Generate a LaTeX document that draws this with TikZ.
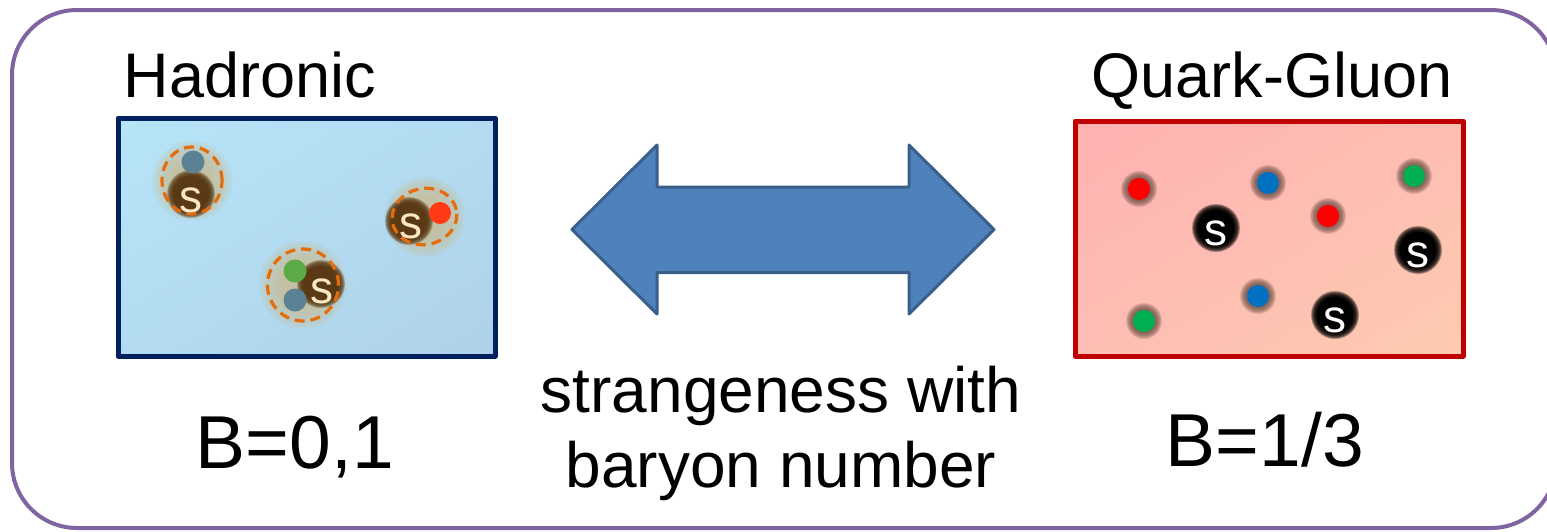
\documentclass[tikz,border=0pt]{standalone}
\usepackage{fontspec}
\setmainfont{Liberation Sans}
\usetikzlibrary{shadings}

\definecolor{framepurple}{HTML}{8064A2}
\definecolor{hadnavy}{HTML}{002060}
\definecolor{qgpred}{HTML}{C00000}
\definecolor{arrowfill}{HTML}{4F81BD}
\definecolor{arrowline}{HTML}{3A5F8B}
\definecolor{dashorange}{HTML}{E46C0A}
\definecolor{sbrown}{HTML}{5A3A14}
\definecolor{speach}{HTML}{FCE6C4}
\definecolor{halotan}{HTML}{C8BE98}
\definecolor{hblue}{HTML}{5B8294}
\definecolor{hgreen}{HTML}{5BAA46}
\definecolor{hred}{HTML}{FF3B17}
\definecolor{qred}{HTML}{FF0000}
\definecolor{qblue}{HTML}{0070C0}
\definecolor{qgreen}{HTML}{00B050}
\definecolor{qshadow}{HTML}{6E4E44}
% box background corners
\definecolor{hadUL}{RGB}{182,229,248}
\definecolor{hadUR}{RGB}{178,219,241}
\definecolor{hadLL}{RGB}{178,219,241}
\definecolor{hadLR}{RGB}{175,209,234}
\definecolor{qgpUL}{RGB}{255,177,178}
\definecolor{qgpUR}{RGB}{254,190,178}
\definecolor{qgpLL}{RGB}{254,190,180}
\definecolor{qgpLR}{RGB}{252,203,176}

% soft-edged disk: stacked translucent rings
% #1 colour, #2 x, #3 y, #4 inner radius, #5 outer radius, #6 opacity per ring
\newcommand\glowdisk[6]{%
  \foreach \gk in {0,...,9}{%
    \fill[#1, fill opacity=#6] (#2,#3) circle ({(#5-(#5-#4)*\gk/9)*1pt});
  }}

\begin{document}
\begin{tikzpicture}[x=1pt, y=-1pt,
  title/.style={font=\fontsize{63}{75}\selectfont, inner sep=0pt, anchor=base},
  valuelabel/.style={font=\fontsize{75}{90}\selectfont, inner sep=0pt, anchor=base},
  midlabel/.style={font=\fontsize{64}{75}\selectfont, align=center, inner sep=0pt},
  hadbox/.style={draw=hadnavy, line width=5pt, line join=round,
    minimum width=377pt, minimum height=238pt, inner sep=0pt,
    upper left=hadUL, upper right=hadUR, lower left=hadLL, lower right=hadLR},
  qgpbox/.style={draw=qgpred, line width=5pt, line join=round,
    minimum width=388pt, minimum height=235pt, inner sep=0pt,
    upper left=qgpUL, upper right=qgpUR, lower left=qgpLL, lower right=qgpLR},
  hdash/.style={draw=dashorange, line width=3.2pt, dash pattern=on 10pt off 6pt},
  hletter/.style={font=\fontsize{46}{46}\selectfont, text=speach, inner sep=0pt},
  qletter/.style={font=\fontsize{46}{46}\selectfont, text=white, inner sep=0pt}]

\useasboundingbox (0,0) rectangle (1547,531);

% outer frame (runs past the right edge)
\draw[framepurple, line width=4pt, rounded corners=65pt] (12,10) rectangle (1556,528);

% phase boxes
\node[hadbox] (had) at (306.5,237) {};
\node[qgpbox] (qgp) at (1269,238.5) {};

% titles and baryon numbers
\node[title] (hadtitle) at (250,97) {Hadronic};
\node[title] (qgptitle) at (1272,97) {Quark-Gluon};
\node[valuelabel] (hadB) at (295,468) {B=0,1};
\node[valuelabel] (qgpB) at (1265,466) {B=1/3};
\node[midlabel] (mid) at (781,433) {strangeness with\\baryon number};

% double block arrow
\draw[arrowline, fill=arrowfill, line width=3pt, line join=round]
  (572,229.5) -- (657,145) -- (657,187) -- (909,187) -- (909,145)
  -- (994,229.5) -- (909,314) -- (909,272.5) -- (657,272.5) -- (657,314) -- cycle;

% hadrons: strange meson (top left)
\glowdisk{halotan}{192}{181}{14}{40}{0.2}
\glowdisk{sbrown}{191}{194}{17}{24}{0.3}
\fill[sbrown] (191,194) circle (18pt);
\fill[hblue] (193,162) circle (11.5pt);
\draw[hdash] (192,180.5) ellipse (30pt and 33.5pt);
\node[hletter] (sA) at (191,200) {s};

% strange meson (right)
\glowdisk{halotan}{425}{217}{14}{40}{0.2}
\glowdisk{sbrown}{409}{221}{17}{24}{0.3}
\fill[sbrown] (409,221) circle (18pt);
\fill[hred] (440,213) circle (11pt);
\draw[hdash, rotate around={12:(424.5,216.5)}] (424.5,216.5) ellipse (32.5pt and 28pt);
\node[hletter] (sB) at (411,226) {s};

% strange baryon (bottom)
\glowdisk{halotan}{303}{285}{16}{44}{0.2}
\glowdisk{sbrown}{321}{284}{17}{24}{0.3}
\fill[sbrown] (321,284) circle (18pt);
\fill[hgreen] (295,271) circle (11.5pt);
\fill[hblue] (295,300) circle (11.5pt);
\draw[hdash] (303,285) ellipse (35.5pt and 36pt);
\node[hletter] (sC) at (322,291) {s};

% free quarks in the plasma
\foreach \px/\py/\col in {1139/189/qred, 1268/183/qblue, 1414/176/qgreen,
    1328/216/qred, 1258/296/qblue, 1144/321/qgreen} {
  \glowdisk{qshadow}{\px}{\py}{10}{18}{0.18}
  \fill[\col] (\px,\py) circle (11pt);
}
\foreach \px/\py in {1216/228, 1418/250, 1335/315} {
  \glowdisk{black}{\px}{\py}{17}{24}{0.3}
  \fill[black] (\px,\py) circle (18pt);
}
\node[qletter] (s1) at (1216,233) {s};
\node[qletter] (s2) at (1418,255) {s};
\node[qletter] (s3) at (1335,320) {s};
\end{tikzpicture}
\end{document}
